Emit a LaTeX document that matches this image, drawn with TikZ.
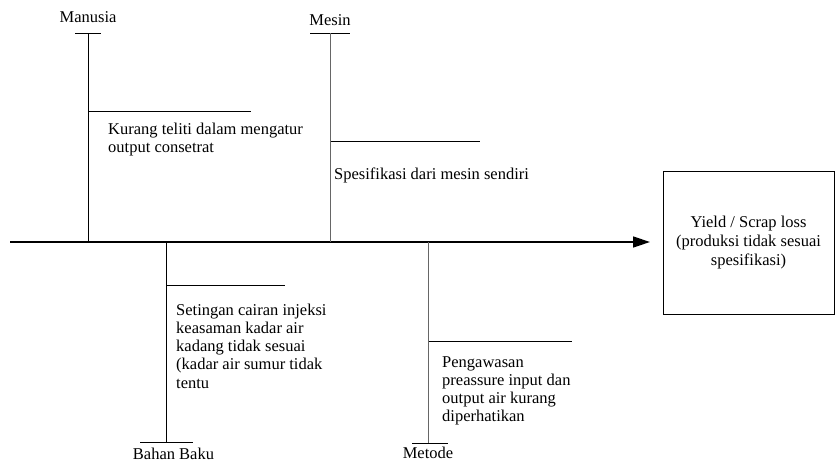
\documentclass[tikz,border=0pt]{standalone}
\usepackage{fontspec}
\setmainfont{Liberation Serif}
\usepackage{tikz}
\usetikzlibrary{arrows.meta,positioning}
\tikzstyle{bone}=[draw=black, line width=0.9pt]
\tikzstyle{greybone}=[draw=black!60, line width=0.9pt]
\tikzstyle{spine}=[draw=black, line width=1.4pt, -{Triangle[length=17pt,width=11pt]}]
\tikzstyle{category}=[inner sep=0pt, anchor=base, font=\fontsize{16.5}{18.2}\selectfont]
\tikzstyle{cause}=[inner sep=0pt, anchor=north west, align=left, font=\fontsize{16.5}{18.2}\selectfont]
\tikzstyle{effectbox}=[draw=black, line width=0.9pt, minimum width=171pt, minimum height=143pt, inner sep=0pt, align=center, font=\fontsize{16.5}{19}\selectfont]

\begin{document}
\begin{tikzpicture}[x=1pt,y=-1pt]
            \useasboundingbox (0,0) rectangle (835,463);

            % spine and effect
            \coordinate (tail) at (10,242);
            \coordinate (head) at (650,242);
            \node[effectbox] (effect) at (748.5,242.5) {Yield / Scrap loss\\(produksi tidak sesuai\\spesifikasi)};
            \path[spine] (tail) -- (head);

            % points on the bones
            \coordinate (j1) at (88,242);   \coordinate (t1) at (88,33);
            \coordinate (t1l) at (75,33);   \coordinate (t1r) at (101,33);
            \coordinate (j2) at (330,242);  \coordinate (t2) at (330,33);
            \coordinate (t2l) at (310,33);  \coordinate (t2r) at (350,33);
            \coordinate (j3) at (166,242);  \coordinate (b3) at (166,442);
            \coordinate (b3l) at (140,442); \coordinate (b3r) at (193,442);
            \coordinate (j4) at (428,242);  \coordinate (b4) at (428,443);
            \coordinate (b4l) at (412,443); \coordinate (b4r) at (448,443);

            \coordinate (s1) at (88,111);   \coordinate (s1e) at (251,111);
            \coordinate (s2) at (330,141);  \coordinate (s2e) at (480,141);
            \coordinate (s3) at (166,285);  \coordinate (s3e) at (285,285);
            \coordinate (s4) at (428,341);  \coordinate (s4e) at (572,341);

            \begin{scope}[every path/.style={bone}]
                \path (t1) -- (j1);
                \path (t1l) -- (t1r);
                \path (t2l) -- (t2r);
                \path (j3) -- (b3);
                \path (b3l) -- (b3r);
                \path (b4l) -- (b4r);
                \path (s1) -- (s1e);
                \path (s2) -- (s2e);
                \path (s3) -- (s3e);
                \path (s4) -- (s4e);
            \end{scope}

            \begin{scope}[every path/.style={greybone}]
                \path (t2) -- (j2);
                \path (j4) -- (b4);
            \end{scope}

            \begin{scope}[every node/.style={category}]
                \node (manusia) at (88,22.5) {Manusia};
                \node (mesin) at (330,25.5) {Mesin};
                \node (bahan) at (173.5,459) {Bahan Baku};
                \node (metode) at (428,458) {Metode};
            \end{scope}

            \begin{scope}[every node/.style={cause}]
                \node (c1) at (108,122.7) {Kurang teliti dalam mengatur\\output consetrat};
                \node (c2) at (334,167.7) {Spesifikasi dari mesin sendiri};
                \node (c3) at (176,303.7) {Setingan cairan injeksi\\keasaman kadar air\\kadang tidak sesuai\\(kadar air sumur tidak\\tentu};
                \node (c4) at (442,356.1) {Pengawasan\\preassure input dan\\output air kurang\\diperhatikan};
            \end{scope}
        \end{tikzpicture}
\end{document}
